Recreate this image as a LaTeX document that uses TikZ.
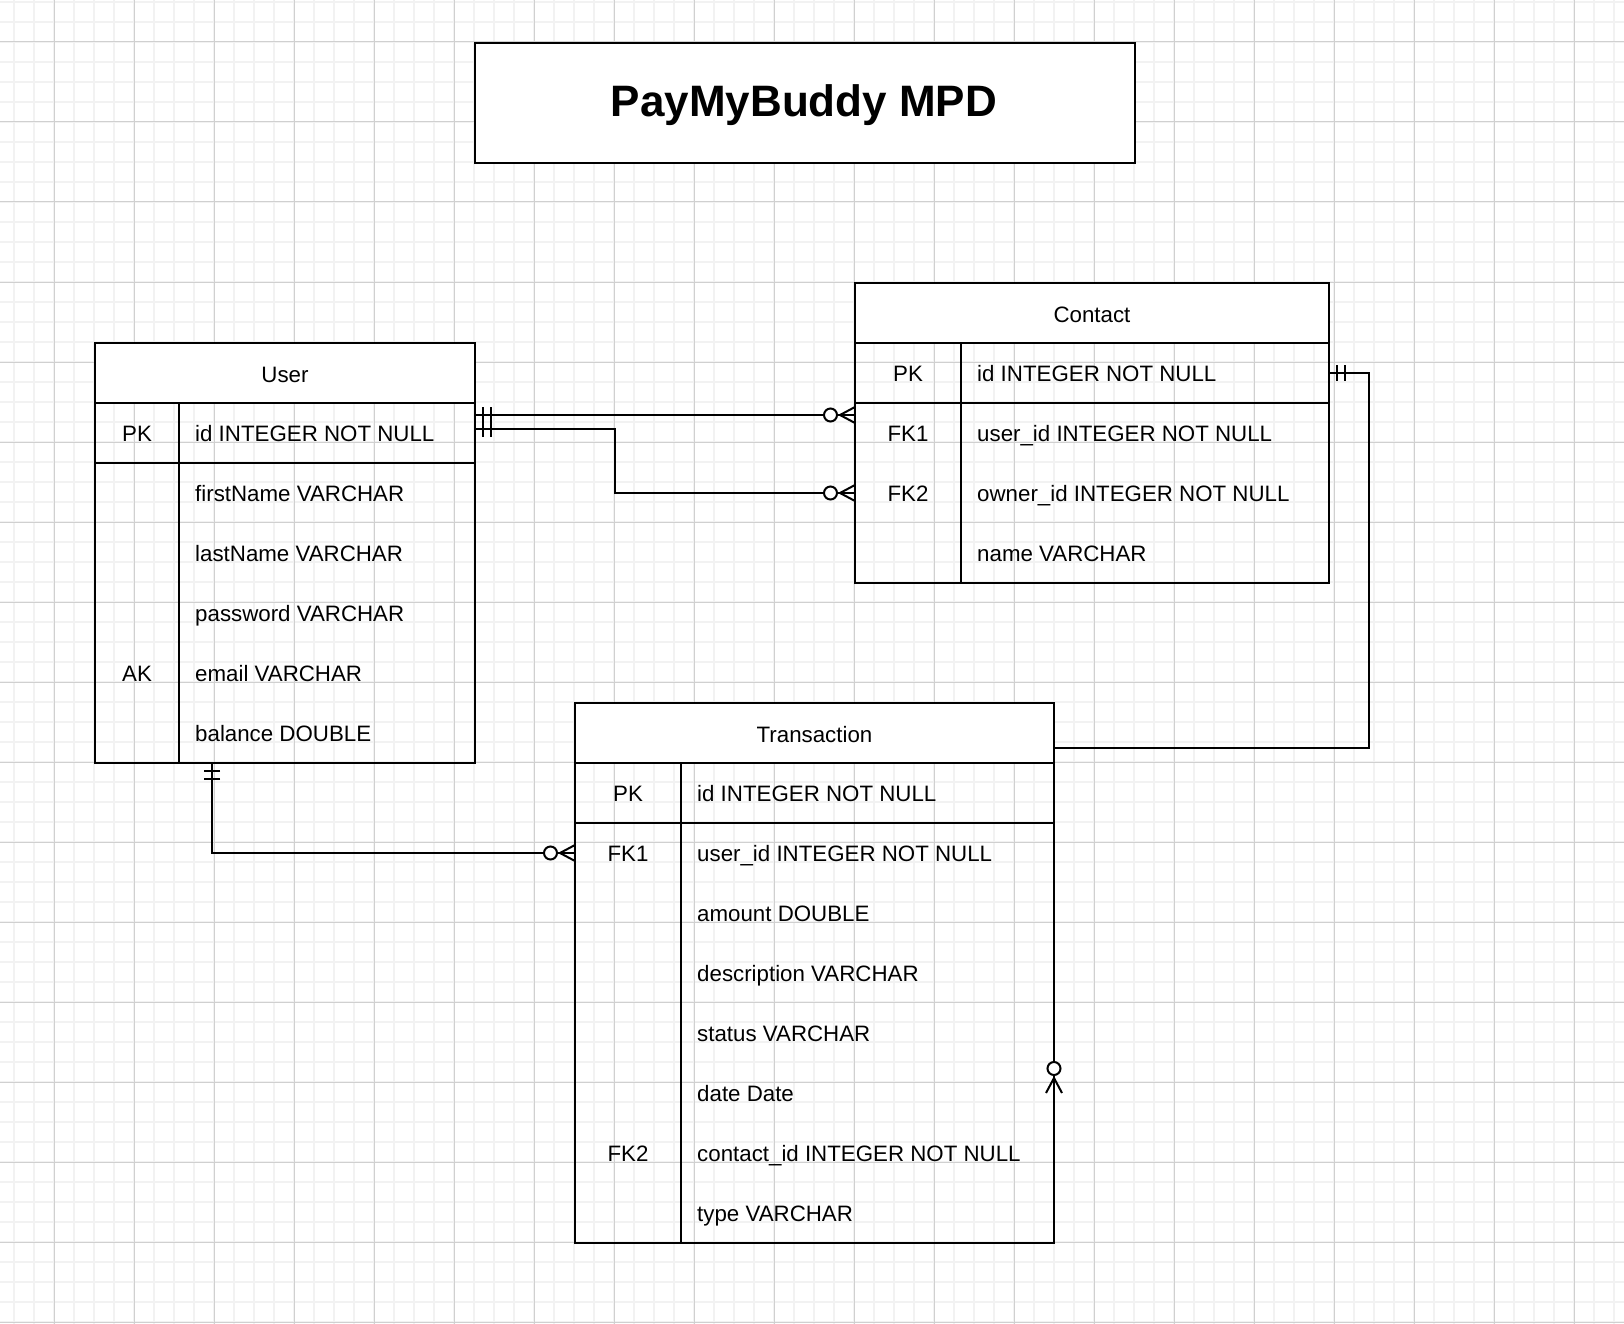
\documentclass[tikz,border=0pt]{standalone}
\usepackage{fontspec}
\setmainfont{Liberation Sans}
\definecolor{gridminor}{RGB}{242,242,242}
\definecolor{gridmajor}{RGB}{208,208,208}
\tikzset{
	tableline/.style={draw=black, line width=2pt},
	relline/.style={draw=black, line width=2pt},
	headtext/.style={anchor=base, inner sep=0pt, font=\fontsize{22.3}{26}\selectfont},
	keytext/.style={anchor=base, inner sep=0pt, font=\fontsize{22.3}{26}\selectfont},
	fieldtext/.style={anchor=base west, inner sep=0pt, font=\fontsize{22.3}{26}\selectfont},
	pics/zeromany/.style={code={
		\draw[relline] (-15,0) -- (0,8) (-15,0) -- (0,-8);
		\draw[relline, fill=white] (-24.5,0) circle (6.5pt);
	}},
	pics/mandone/.style={code={
		\draw[relline] (8,-8) -- (8,8) (16,-8) -- (16,8);
	}}
}
\begin{document}
\begin{tikzpicture}[x=1pt, y=-1pt]
	\useasboundingbox (0,0) rectangle (1624,1324);
	% grid
	\foreach \gx in {14,34,...,1614} \draw[gridminor, line width=1.2pt] (\gx,0) -- (\gx,1324);
	\foreach \gy in {2,22,...,1322} \draw[gridminor, line width=1.2pt] (0,\gy) -- (1624,\gy);
	\foreach \gx in {54,134,...,1614} \draw[gridmajor, line width=1pt] (\gx,0) -- (\gx,1324);
	\foreach \gy in {42,122,...,1322} \draw[gridmajor, line width=1pt] (0,\gy) -- (1624,\gy);

	% title
	\node[draw, fill=white, line width=2pt, minimum width=660, minimum height=120] (title) at (805,103) {};
	\node[anchor=base, inner sep=0pt, font=\fontsize{44}{50}\selectfont\bfseries] (titlelabel) at (804,117) {PayMyBuddy MPD};

	% User
	\draw[tableline, fill=white] (95,343) rectangle (475,403);
	\draw[tableline] (95,403) rectangle (475,763);
	\draw[tableline] (95,463) -- (475,463) (179,403) -- (179,763);
	\node[headtext] (user) at (285,382) {User};
	\node[keytext] (user-pk) at (137,441.5) {PK};
	\node[keytext] (user-ak) at (137,681.5) {AK};
	\foreach \ftext [count=\i from 0] in {id INTEGER NOT NULL, firstName VARCHAR, lastName VARCHAR, password VARCHAR, email VARCHAR, balance DOUBLE}
		\node[fieldtext] (user-f\i) at (195,{441.5+60*\i}) {\ftext};

	% Contact
	\draw[tableline, fill=white] (855,283) rectangle (1329,343);
	\draw[tableline] (855,343) rectangle (1329,583);
	\draw[tableline] (855,403) -- (1329,403) (961,343) -- (961,583);
	\node[headtext] (contact) at (1092,322) {Contact};
	\node[keytext] (contact-pk) at (908,381.5) {PK};
	\node[keytext] (contact-fk1) at (908,441.5) {FK1};
	\node[keytext] (contact-fk2) at (908,501.5) {FK2};
	\foreach \ftext [count=\i from 0] in {id INTEGER NOT NULL, user\_id INTEGER NOT NULL, owner\_id INTEGER NOT NULL, name VARCHAR}
		\node[fieldtext] (contact-f\i) at (977,{381.5+60*\i}) {\ftext};

	% Transaction
	\draw[tableline, fill=white] (575,703) rectangle (1054,763);
	\draw[tableline] (575,763) rectangle (1054,1243);
	\draw[tableline] (575,823) -- (1054,823) (681,763) -- (681,1243);
	\node[headtext] (transaction) at (814.5,742) {Transaction};
	\node[keytext] (transaction-pk) at (628,801.5) {PK};
	\node[keytext] (transaction-fk1) at (628,861.5) {FK1};
	\node[keytext] (transaction-fk2) at (628,1161.5) {FK2};
	\foreach \ftext [count=\i from 0] in {id INTEGER NOT NULL, user\_id INTEGER NOT NULL, amount DOUBLE, description VARCHAR, status VARCHAR, date Date, contact\_id INTEGER NOT NULL, type VARCHAR}
		\node[fieldtext] (transaction-f\i) at (697,{801.5+60*\i}) {\ftext};

	% relations
	\coordinate (u-c1) at (475,415);
	\coordinate (u-c2) at (475,429);
	\coordinate (u-bot) at (212,763);
	\coordinate (c-fk1) at (855,415);
	\coordinate (c-fk2) at (855,493);
	\coordinate (c-pk) at (1329,373);
	\coordinate (t-fk1) at (575,853);
	\coordinate (t-fk2) at (1054,1093);

	\draw[relline] (u-c1) -- (c-fk1);
	\draw[relline] (u-c2) -- ++(140,0) |- (c-fk2);
	\draw[relline] (u-bot) |- (t-fk1);
	\draw[relline] (c-pk) -- ++(40,0) -- ++(0,375) -| (t-fk2);

	\pic at (u-c1) {mandone};
	\pic at (u-c2) {mandone};
	\pic[rotate=-90] at (u-bot) {mandone};
	\pic at (c-pk) {mandone};
	\pic at (c-fk1) {zeromany};
	\pic at (c-fk2) {zeromany};
	\pic at (t-fk1) {zeromany};
	\pic[rotate=-90] at (t-fk2) {zeromany};
\end{tikzpicture}
\end{document}
